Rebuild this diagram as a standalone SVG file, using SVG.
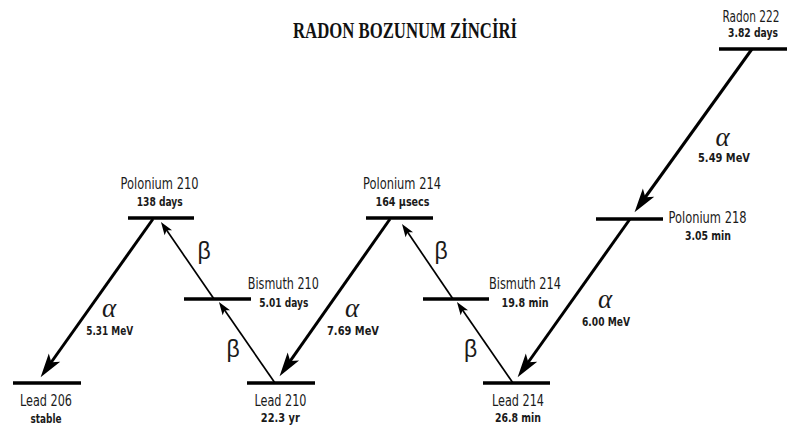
<svg xmlns="http://www.w3.org/2000/svg" width="787" height="434" viewBox="0 0 787 434">
<style>
.bar{stroke:#000;stroke-width:3.5;fill:none}
.nm{font-family:"DejaVu Sans Condensed","DejaVu Sans",sans-serif;font-size:16.5px;fill:#1a1a1a;text-anchor:middle}
.hl{font-family:"DejaVu Sans Condensed","DejaVu Sans",sans-serif;font-size:13px;font-weight:bold;fill:#1a1a1a;text-anchor:middle}
.a{stroke:#000;stroke-width:3;fill:none}
.b{stroke:#000;stroke-width:1.7;fill:none}
.al{font-family:"Liberation Serif",serif;font-style:italic;font-size:27px;fill:#1a1a1a;text-anchor:middle}
.be{font-family:"Liberation Sans",sans-serif;font-size:23px;fill:#1a1a1a;text-anchor:middle}
.title{font-family:"Liberation Serif",serif;font-weight:bold;font-size:23px;fill:#111;text-anchor:middle}
</style>
<defs>
<marker id="ma" markerUnits="userSpaceOnUse" viewBox="-2 -9 30 18" markerWidth="30" markerHeight="18" refX="9" refY="0" orient="auto">
<path d="M24,0 L0,-7 L5.5,0 L0,7 Z" fill="#000"/>
</marker>
<marker id="mb" markerUnits="userSpaceOnUse" viewBox="-2 -6 18 12" markerWidth="18" markerHeight="12" refX="5" refY="0" orient="auto">
<path d="M13,0 L0,-4.5 L3,0 L0,4.5 Z" fill="#000"/>
</marker>
</defs>
<rect width="787" height="434" fill="#fff"/>
<text class="title" x="405" y="38.3" textLength="224" lengthAdjust="spacingAndGlyphs">RADON BOZUNUM ZİNCİRİ</text>

<g id="radon222">
<line class="bar" x1="719" y1="49" x2="787" y2="49"/>
<text class="nm" transform="translate(751,21.5) scale(0.64,1)" x="0" y="0" textLength="89" lengthAdjust="spacingAndGlyphs">Radon 222</text>
<text class="hl" transform="translate(753,37) scale(0.704,1)" x="0" y="0" textLength="71" lengthAdjust="spacingAndGlyphs">3.82 days</text>
</g>
<g id="polonium218">
<line class="bar" x1="596" y1="219" x2="663" y2="219"/>
<text class="nm" x="707.5" y="222.5" textLength="78" lengthAdjust="spacingAndGlyphs">Polonium 218</text>
<text class="hl" x="708" y="240" textLength="46" lengthAdjust="spacingAndGlyphs">3.05 min</text>
</g>
<g id="polonium210">
<line class="bar" x1="128" y1="218" x2="194" y2="218"/>
<text class="nm" x="159.5" y="189" textLength="78" lengthAdjust="spacingAndGlyphs">Polonium 210</text>
<text class="hl" x="159.7" y="205.5" textLength="46" lengthAdjust="spacingAndGlyphs">138 days</text>
</g>
<g id="polonium214">
<line class="bar" x1="366" y1="218" x2="433" y2="218"/>
<text class="nm" x="402" y="189" textLength="78" lengthAdjust="spacingAndGlyphs">Polonium 214</text>
<text class="hl" x="402.5" y="205.5" textLength="54" lengthAdjust="spacingAndGlyphs">164  μsecs</text>
</g>
<g id="bismuth210">
<line class="bar" x1="184" y1="299" x2="251" y2="299"/>
<text class="nm" x="283.3" y="289.3" textLength="71" lengthAdjust="spacingAndGlyphs">Bismuth 210</text>
<text class="hl" x="283.8" y="307" textLength="49" lengthAdjust="spacingAndGlyphs">5.01 days</text>
</g>
<g id="bismuth214">
<line class="bar" x1="423" y1="299" x2="489" y2="299"/>
<text class="nm" x="525" y="289.3" textLength="72" lengthAdjust="spacingAndGlyphs">Bismuth 214</text>
<text class="hl" x="525" y="307" textLength="47" lengthAdjust="spacingAndGlyphs">19.8 min</text>
</g>
<g id="lead206">
<line class="bar" x1="13" y1="383" x2="81" y2="383"/>
<text class="nm" x="46" y="406.3" textLength="52" lengthAdjust="spacingAndGlyphs">Lead 206</text>
<text class="hl" x="46" y="422.5" textLength="31" lengthAdjust="spacingAndGlyphs">stable</text>
</g>
<g id="lead210">
<line class="bar" x1="247" y1="383" x2="315" y2="383"/>
<text class="nm" x="280.5" y="406.3" textLength="52" lengthAdjust="spacingAndGlyphs">Lead 210</text>
<text class="hl" x="280.3" y="421.5" textLength="39" lengthAdjust="spacingAndGlyphs">22.3 yr</text>
</g>
<g id="lead214">
<line class="bar" x1="483" y1="383" x2="550" y2="383"/>
<text class="nm" x="518" y="406.3" textLength="52" lengthAdjust="spacingAndGlyphs">Lead 214</text>
<text class="hl" x="518" y="421.5" textLength="46" lengthAdjust="spacingAndGlyphs">26.8 min</text>
</g>

<g id="connectors">
<line class="a" x1="752" y1="49" x2="643.3" y2="200.0" marker-end="url(#ma)"/>
<line class="a" x1="630" y1="219" x2="526.3" y2="365.0" marker-end="url(#ma)"/>
<line class="a" x1="390" y1="219" x2="288.2" y2="363.9" marker-end="url(#ma)"/>
<line class="a" x1="153" y1="219" x2="49.3" y2="365.0" marker-end="url(#ma)"/>
<line class="b" x1="275" y1="383" x2="223.5" y2="308.6" marker-end="url(#mb)"/>
<line class="b" x1="214" y1="299" x2="165.5" y2="228.6" marker-end="url(#mb)"/>
<line class="b" x1="513" y1="383" x2="461.5" y2="308.6" marker-end="url(#mb)"/>
<line class="b" x1="453" y1="299" x2="406.5" y2="230.6" marker-end="url(#mb)"/>
<text class="al" x="722.5" y="146">α</text>
<text class="hl" x="724" y="161.5" textLength="52" lengthAdjust="spacingAndGlyphs">5.49 MeV</text>
<text class="al" x="605" y="308">α</text>
<text class="hl" x="606" y="326" textLength="48" lengthAdjust="spacingAndGlyphs">6.00 MeV</text>
<text class="al" x="352" y="317">α</text>
<text class="hl" x="353" y="335" textLength="52" lengthAdjust="spacingAndGlyphs">7.69 MeV</text>
<text class="al" x="109" y="317">α</text>
<text class="hl" x="109.7" y="335" textLength="47" lengthAdjust="spacingAndGlyphs">5.31 MeV</text>
<text class="be" x="204" y="258.5">β</text>
<text class="be" x="233" y="357">β</text>
<text class="be" x="441" y="258.5">β</text>
<text class="be" x="470.5" y="357">β</text>
</g>
</svg>
